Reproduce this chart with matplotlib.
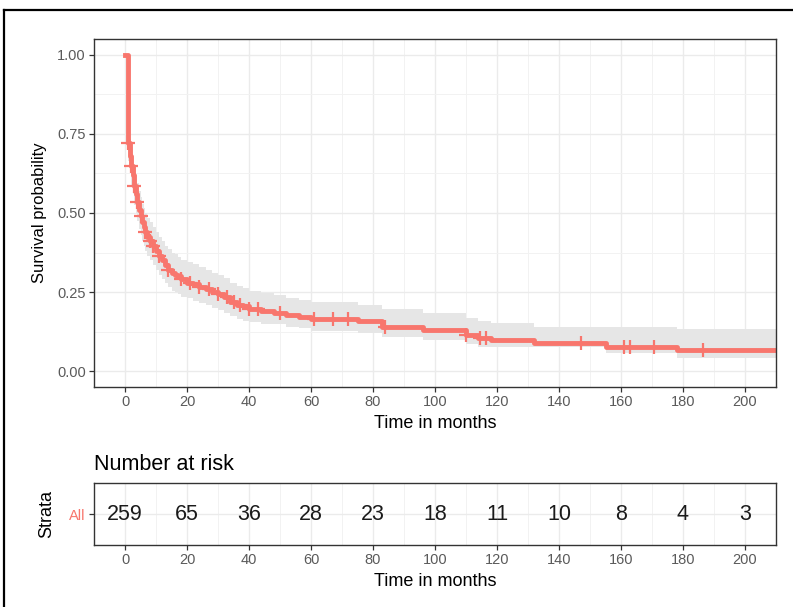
import numpy as np
import matplotlib
matplotlib.use('Agg')
import matplotlib.pyplot as plt
from matplotlib.lines import Line2D

plt.rcParams['font.family'] = ['Liberation Sans', 'DejaVu Sans']

# ---- data ----
times = [0, 1, 1.5, 2, 2.5, 3, 3.5, 4, 4.5, 5, 5.5, 6, 6.5, 7, 8, 9, 10, 11, 12,
         13, 14, 15, 16, 17, 18, 20, 22, 24, 26, 28, 30, 32, 34, 36, 38, 40, 44,
         48, 52, 56, 60, 75, 83, 96, 110, 114, 118, 132, 155, 178, 215]
surv = [1.0, 0.72, 0.68, 0.65, 0.62, 0.585, 0.56, 0.535, 0.51, 0.49, 0.47, 0.455,
        0.44, 0.425, 0.41, 0.395, 0.38, 0.365, 0.35, 0.335, 0.32, 0.31, 0.305,
        0.30, 0.29, 0.28, 0.275, 0.265, 0.26, 0.25, 0.245, 0.235, 0.22, 0.21,
        0.205, 0.195, 0.19, 0.185, 0.178, 0.172, 0.165, 0.158, 0.14, 0.13, 0.115,
        0.105, 0.099, 0.09, 0.078, 0.067, 0.067]
lower = [1.0, 0.665, 0.625, 0.59, 0.56, 0.525, 0.50, 0.475, 0.45, 0.43, 0.41,
         0.395, 0.38, 0.365, 0.35, 0.335, 0.32, 0.305, 0.29, 0.278, 0.265, 0.255,
         0.25, 0.245, 0.235, 0.23, 0.222, 0.215, 0.208, 0.20, 0.193, 0.185, 0.173,
         0.165, 0.16, 0.155, 0.15, 0.148, 0.14, 0.135, 0.128, 0.122, 0.108, 0.10,
         0.085, 0.078, 0.078, 0.078, 0.057, 0.042, 0.042]
upper = [1.0, 0.775, 0.735, 0.71, 0.68, 0.645, 0.62, 0.595, 0.57, 0.55, 0.53,
         0.515, 0.50, 0.485, 0.47, 0.455, 0.44, 0.425, 0.41, 0.395, 0.385, 0.375,
         0.37, 0.36, 0.35, 0.345, 0.338, 0.33, 0.32, 0.31, 0.303, 0.295, 0.28,
         0.27, 0.262, 0.255, 0.248, 0.24, 0.232, 0.226, 0.22, 0.21, 0.195, 0.185,
         0.168, 0.158, 0.153, 0.141, 0.141, 0.132, 0.132]
cens_t = [1, 2, 3, 4, 5, 6.5, 8, 9, 11, 14, 18, 21, 24, 27, 30, 33, 35, 37, 40,
          43, 50, 61, 67, 72, 84, 110, 114.5, 116.6, 147, 161, 163, 170.6, 186.5]

risk_t = [0, 20, 40, 60, 80, 100, 120, 140, 160, 180, 200]
risk_n = [259, 65, 36, 28, 23, 18, 11, 10, 8, 4, 3]

red = '#F8766D'
W, H = 793, 607

def box(l, t, r, b):
    return [l / W, 1 - b / H, (r - l) / W, (b - t) / H]

fig = plt.figure(figsize=(W / 100, H / 100), dpi=100)

def style(ax):
    for s in ax.spines.values():
        s.set_color('#333333')
        s.set_linewidth(1.0)
    ax.tick_params(which='major', length=3.5, color='#333333', width=0.9,
                   labelcolor='#5A5A5A', labelsize=10.5, pad=2.5)
    ax.tick_params(which='minor', length=0)
    ax.grid(True, which='major', color='#EBEBEB', lw=1.0, zorder=0)
    ax.grid(True, which='minor', color='#F2F2F2', lw=0.7, zorder=0)
    ax.set_axisbelow(True)

#---------------- survival curve ----------------
ax = fig.add_axes(box(94, 39, 776, 387))
style(ax)
ax.fill_between(times, lower, upper, step='post', color='#E6E6E6', lw=0, zorder=1)
ax.step(times, surv, where='post', color=red, lw=3.5, zorder=2)
cs = [surv[np.searchsorted(times, c, side='right') - 1] for c in cens_t]
ax.plot(cens_t, cs, '+', color=red, ms=10, mew=1.6, zorder=3)
ax.set_xlim(-10, 210)
ax.set_ylim(-0.05, 1.05)
ax.set_xticks(np.arange(0, 201, 20))
ax.set_xticks(np.arange(-10, 211, 20), minor=True)
ax.set_yticks([0, 0.25, 0.5, 0.75, 1.0])
ax.set_yticks([0.125, 0.375, 0.625, 0.875], minor=True)
ax.set_yticklabels(['0.00', '0.25', '0.50', '0.75', '1.00'])
ax.set_xlabel('Time in months', fontsize=13, labelpad=4)
ax.set_ylabel('Survival probability', fontsize=12, labelpad=7)

#---------------- risk table ----------------
rt = fig.add_axes(box(94, 483, 776, 545))
style(rt)
for t, n in zip(risk_t, risk_n):
    rt.text(t, 0, str(n), ha='center', va='center', fontsize=15.5, color='#1A1A1A')
rt.set_xlim(-10, 210)
rt.set_ylim(-0.6, 0.6)
rt.set_xticks(risk_t)
rt.set_xticks(np.arange(-10, 211, 20), minor=True)
rt.set_yticks([0])
rt.set_yticklabels(['All'])
rt.get_yticklabels()[0].set_color(red)
rt.set_xlabel('Time in months', fontsize=13, labelpad=4)
rt.set_ylabel('Strata', fontsize=13, labelpad=10)
rt.set_title('Number at risk', loc='left', fontsize=15.5, pad=9)

# outer frame seen in the picture
fig.add_artist(Line2D([4 / W, 4 / W], [0, 1 - 10 / H], color='black', lw=1.6))
fig.add_artist(Line2D([4 / W, 1], [1 - 10 / H, 1 - 10 / H], color='black', lw=1.6))

plt.savefig('out.png', dpi=100)
